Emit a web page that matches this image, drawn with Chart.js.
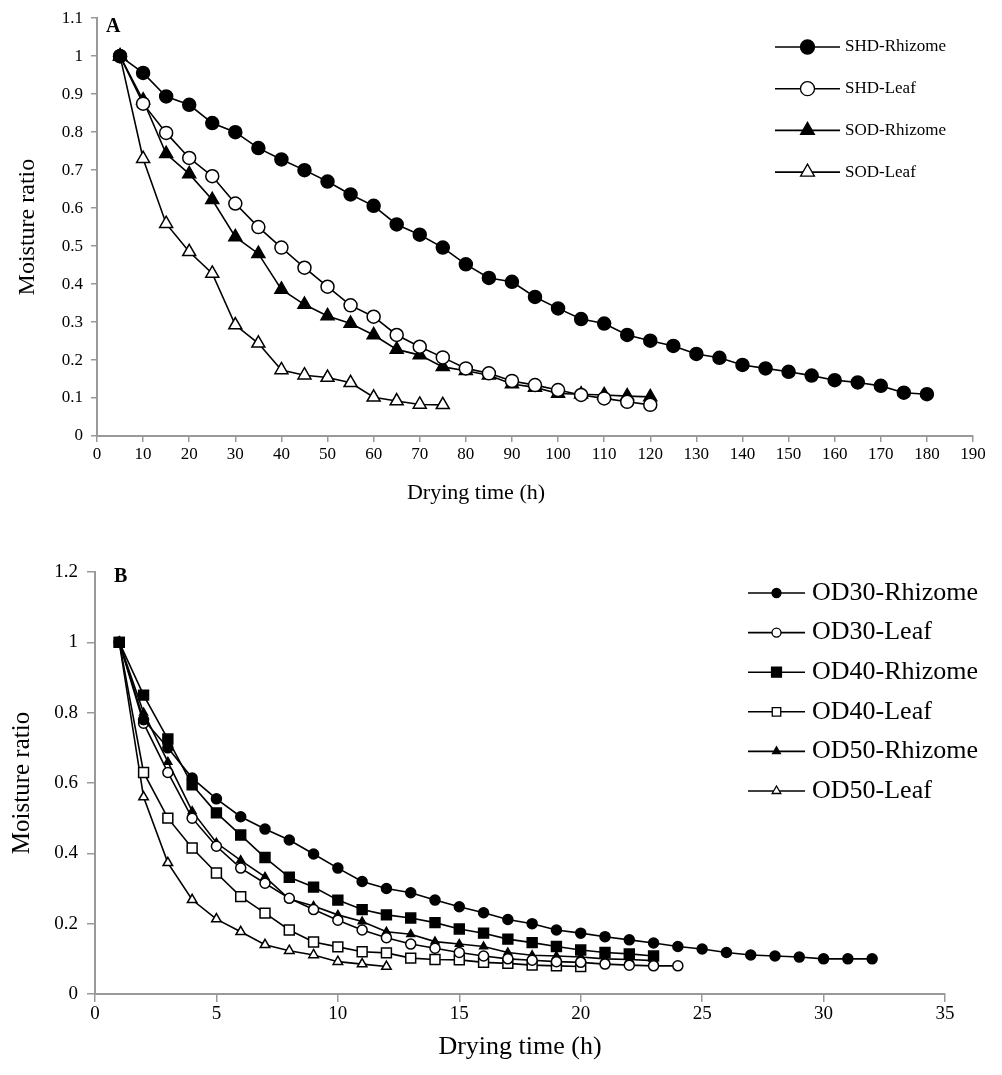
<!DOCTYPE html>
<html>
<head>
<meta charset="utf-8">
<script src="https://cdn.jsdelivr.net/npm/chart.js@4.4.1/dist/chart.umd.min.js"></script>
<style>
  body { margin: 0; background: #fff; }
  #wrapA { position: absolute; left: 0; top: 0; width: 1002px; height: 530px; }
  #wrapB { position: absolute; left: 0; top: 530px; width: 1002px; height: 545px; }
</style>
</head>
<body>
<div id="wrapA"><canvas id="chartA" width="1002" height="530"></canvas></div>
<div id="wrapB"><canvas id="chartB" width="1002" height="545"></canvas></div>
<script>
// Panel A: sun / shade drying, hours every 5 h starting at 5
const timeA = [5,10,15,20,25,30,35,40,45,50,55,60,65,70,75,80,85,90,95,100,105,110,115,120,
  125,130,135,140,145,150,155,160,165,170,175,180];
const shdRhizome = [1.0,0.956,0.894,0.872,0.824,0.80,0.758,0.728,0.70,0.67,0.636,0.606,0.557,0.53,
  0.496,0.452,0.416,0.406,0.366,0.336,0.308,0.296,0.266,0.251,0.237,0.216,0.206,0.187,0.178,0.169,
  0.159,0.147,0.141,0.132,0.114,0.11];
const shdLeaf = [1.0,0.875,0.798,0.732,0.684,0.612,0.55,0.496,0.443,0.393,0.344,0.314,0.266,0.235,
  0.207,0.178,0.165,0.145,0.134,0.121,0.108,0.099,0.09,0.082];
const sodRhizome = [1.0,0.884,0.743,0.69,0.622,0.524,0.48,0.386,0.346,0.316,0.296,0.266,0.228,0.213,
  0.182,0.172,0.16,0.137,0.128,0.112,0.11,0.108,0.105,0.103];
const sodLeaf = [1.0,0.73,0.559,0.485,0.428,0.292,0.244,0.174,0.16,0.154,0.14,0.102,0.092,0.083,0.082];

// Panel B: oven drying, hourly starting at 1
const timeB = [1,2,3,4,5,6,7,8,9,10,11,12,13,14,15,16,17,18,19,20,21,22,23,24,25,26,27,28,29,30,31,32];
const od30Rhizome = [1.0,0.78,0.70,0.614,0.555,0.504,0.469,0.438,0.398,0.358,0.32,0.30,0.288,0.267,
  0.248,0.231,0.212,0.2,0.182,0.173,0.163,0.154,0.145,0.135,0.128,0.118,0.111,0.108,0.105,0.1,0.1,0.1];
const od30Leaf = [1.0,0.77,0.63,0.50,0.42,0.358,0.315,0.272,0.24,0.21,0.182,0.16,0.142,0.13,0.118,
  0.108,0.1,0.096,0.092,0.09,0.085,0.082,0.08,0.08];
const od40Rhizome = [1.0,0.85,0.725,0.595,0.515,0.452,0.388,0.332,0.304,0.267,0.24,0.225,0.216,0.203,
  0.185,0.173,0.156,0.146,0.135,0.125,0.118,0.114,0.108];
const od40Leaf = [1.0,0.63,0.50,0.415,0.344,0.277,0.23,0.182,0.148,0.134,0.12,0.117,0.102,0.098,0.097,
  0.09,0.087,0.082,0.08,0.078];
const od50Rhizome = [1.0,0.80,0.66,0.52,0.43,0.38,0.333,0.27,0.25,0.225,0.206,0.177,0.17,0.149,0.142,
  0.135,0.118,0.11,0.108,0.105,0.1,0.098,0.095];
const od50Leaf = [1.0,0.56,0.373,0.268,0.213,0.177,0.14,0.123,0.111,0.092,0.085,0.078];

const serif = "'Liberation Serif', 'DejaVu Serif', serif";

function pts(xs, ys) {
  return ys.map((v, i) => ({ x: xs[i], y: v }));
}

function series(label, xs, ys, style, filled, radius) {
  return {
    label: label,
    data: pts(xs, ys),
    showLine: true,
    borderColor: "#000",
    borderWidth: 1.6,
    pointStyle: style,
    pointRadius: radius,
    pointBorderWidth: 1.5,
    pointBorderColor: "#000",
    pointBackgroundColor: filled ? "#000" : "#fff",
    tension: 0,
  };
}

// legend drawn inside the canvas, like the original figure
const boxLegend = {
  id: "boxLegend",
  afterDraw(chart, args, opts) {
    const ctx = chart.ctx;
    ctx.save();
    chart.data.datasets.forEach((ds, i) => {
      const y = opts.y + i * opts.gap;
      ctx.strokeStyle = "#000";
      ctx.lineWidth = 1.6;
      ctx.beginPath();
      ctx.moveTo(opts.x0, y);
      ctx.lineTo(opts.x1, y);
      ctx.stroke();
      ctx.fillStyle = ds.pointBackgroundColor;
      ctx.lineWidth = 1.3;
      Chart.helpers.drawPoint(ctx, {
        pointStyle: ds.pointStyle, radius: opts.radius[i], borderWidth: 1.3, rotation: 0
      }, (opts.x0 + opts.x1) / 2, y);
      ctx.fillStyle = "#000";
      ctx.font = opts.font;
      ctx.textBaseline = "middle";
      ctx.textAlign = "left";
      ctx.fillText(ds.label, opts.tx, y);
    });
    // panel letter
    ctx.font = "bold 20px " + serif;
    ctx.textBaseline = "middle";
    ctx.fillText(opts.panel, opts.px, opts.py);
    // x title placed off-centre as in the figure
    if (opts.xTitle) {
      ctx.font = opts.xTitle.font;
      ctx.textAlign = "center";
      ctx.fillText(opts.xTitle.text, opts.xTitle.x, opts.xTitle.y);
    }
    ctx.restore();
  },
};

function axisOpts(min, max, step, tickSize, title, titleSize, titlePad, tickLen, tickPad, fit) {
  return {
    type: "linear",
    min: min,
    max: max,
    border: { color: "#999", width: 2 },
    grid: { drawOnChartArea: false, color: "#999", lineWidth: 1.5, tickLength: tickLen },
    ticks: {
      stepSize: step,
      color: "#000",
      padding: tickPad,
      maxRotation: 0,
      autoSkip: false,
      font: { family: serif, size: tickSize },
      callback: (v) => String(Math.round(v * 10) / 10),
    },
    title: {
      display: title !== "",
      text: title,
      color: "#000",
      font: { family: serif, size: titleSize },
      padding: titlePad,
    },
    afterFit: fit,
  };
}

new Chart(document.getElementById("chartA"), {
  type: "scatter",
  data: {
    datasets: [
      series("SHD-Rhizome", timeA, shdRhizome, "circle", true, 6.5),
      series("SHD-Leaf", timeA, shdLeaf, "circle", false, 6.5),
      series("SOD-Rhizome", timeA, sodRhizome, "triangle", true, 7.5),
      series("SOD-Leaf", timeA, sodLeaf, "triangle", false, 7.5),
    ],
  },
  options: {
    responsive: false,
    animation: false,
    layout: { padding: { top: 18, right: 29, left: 0, bottom: 0 } },
    plugins: {
      legend: { display: false },
      tooltip: { enabled: false },
      boxLegend: {
        x0: 775, x1: 840, tx: 845, y: 47, gap: 41.7,
        radius: [7, 7, 8, 8], font: "17px " + serif,
        panel: "A", px: 106, py: 27,
        xTitle: { text: "Drying time (h)", font: "22px " + serif, x: 476, y: 493 },
      },
    },
    scales: {
      x: axisOpts(0, 190, 10, 17, "", 22, { top: 0, bottom: 24 }, 6, 2,
        (s) => { s.height = 94; }),
      y: axisOpts(0, 1.1, 0.1, 17, "Moisture ratio", 24, { top: 13, bottom: 0 }, 6, 8,
        (s) => { s.width = 97; }),
    },
  },
  plugins: [boxLegend],
});

new Chart(document.getElementById("chartB"), {
  type: "scatter",
  data: {
    datasets: [
      series("OD30-Rhizome", timeB, od30Rhizome, "circle", true, 5),
      series("OD30-Leaf", timeB, od30Leaf, "circle", false, 5),
      series("OD40-Rhizome", timeB, od40Rhizome, "rect", true, 7),
      series("OD40-Leaf", timeB, od40Leaf, "rect", false, 7),
      series("OD50-Rhizome", timeB, od50Rhizome, "triangle", true, 4.5),
      series("OD50-Leaf", timeB, od50Leaf, "triangle", false, 5.5),
    ],
  },
  options: {
    responsive: false,
    animation: false,
    layout: { padding: { top: 42, right: 57, left: 0, bottom: 0 } },
    plugins: {
      legend: { display: false },
      tooltip: { enabled: false },
      boxLegend: {
        x0: 748, x1: 805, tx: 812, y: 63, gap: 39.6,
        radius: [4.5, 4.5, 7, 6, 4.5, 5], font: "26px " + serif,
        panel: "B", px: 114, py: 47,
      },
    },
    scales: {
      x: axisOpts(0, 35, 5, 19, "Drying time (h)", 26, { top: 0, bottom: 12 }, 8, 1,
        (s) => { s.height = 81; }),
      y: axisOpts(0, 1.2, 0.2, 19, "Moisture ratio", 25, { top: 7, bottom: 0 }, 8, 9,
        (s) => { s.width = 95; }),
    },
  },
  plugins: [boxLegend],
});
</script>
</body>
</html>
